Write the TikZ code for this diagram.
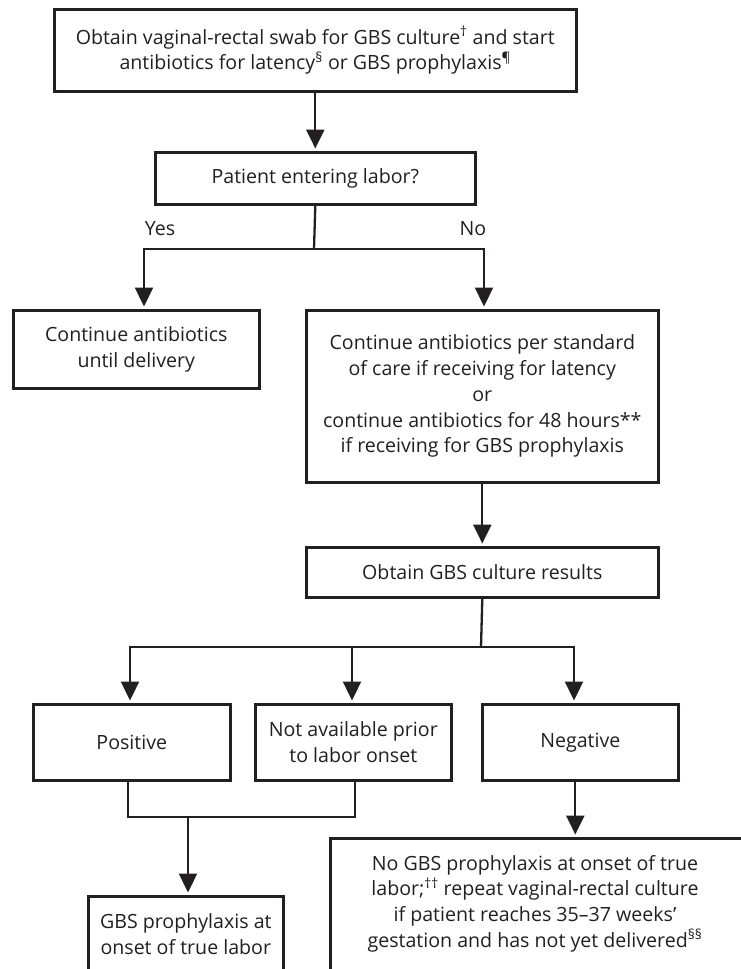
\documentclass[tikz,border=0pt]{standalone}
\usepackage{fontspec}
\setmainfont{Open Sans}
\usetikzlibrary{arrows.meta}
\definecolor{ink}{RGB}{35,31,32}
\begin{document}
\begin{tikzpicture}[x=1pt,y=-1pt,
  every node/.style={font=\fontsize{19.6}{25.7}\selectfont, text=ink},
  box/.style={draw=ink, line width=2.6pt, align=center, inner sep=0pt, anchor=north west},
  conn/.style={draw=ink, line width=2.3pt},
  arr/.style={conn, -{Triangle[width=18pt,length=19pt]}, shorten >=2.5pt},
]
\useasboundingbox (0,0) rectangle (741,969);
\clip (0,0) rectangle (741,969);
\fill[white] (0,0) rectangle (741,969);

\node[box, minimum width=522, minimum height=82] (top) at (53,8)
  {Obtain vaginal-rectal swab for GBS culture\textsuperscript{†} and start\\
   antibiotics for latency\textsuperscript{§} or GBS prophylaxis\textsuperscript{¶}};
\node[box, minimum width=320, minimum height=52] (patient) at (154,151) {Patient entering labor?};
\node[box, minimum width=246, minimum height=78] (left) at (12,309) {Continue antibiotics\\until delivery};
\node[box, minimum width=352, minimum height=172] (right) at (305,309)
  {Continue antibiotics per standard\\of care if receiving for latency\\or\\continue antibiotics for 48 hours**\\if receiving for GBS prophylaxis};
\node[box, minimum width=352, minimum height=50] (obtain) at (305,546) {Obtain GBS culture results};
\node[box, minimum width=197, minimum height=76] (positive) at (32,703) {Positive};
\node[box, minimum width=196, minimum height=76] (notavail) at (254,703) {Not available prior\\to labor onset};
\node[box, minimum width=196, minimum height=76] (negative) at (481,703) {Negative};
\node[box, minimum width=195, minimum height=76] (gbs) at (87,895) {GBS prophylaxis at\\onset of true labor};
\node[box, minimum width=450, minimum height=132.6] (nogbs) at (329,837) {};
\node[align=center, inner sep=0pt] (nogbstext) at (535,903.5)
  {No GBS prophylaxis at onset of true\\labor;\textsuperscript{††} repeat vaginal-rectal culture\\if patient reaches 35–37 weeks’\\gestation and has not yet delivered\textsuperscript{§§}};

\node (yeslbl) at (160,229) {Yes};
\node (nolbl) at (473,229) {No};

\draw[arr] (top.south) -- (patient.north);
\coordinate (yn) at (314,249);
\coordinate (yes) at (144,249);
\coordinate (no) at (484,249);
\draw[conn] (patient.south) -- (yn);
\draw[arr] (yn) -- (yes) -- (yes |- left.north);
\draw[arr] (yn) -- (no) -- (no |- right.north);

\draw[arr] (right.south) -- (obtain.north);
\coordinate (cs) at (481,647);
\coordinate (cp) at (130,647);
\coordinate (cn) at (574,647);
\coordinate (cm) at (352,647);
\draw[conn] (obtain.south) -- (cs);
\draw[arr] (cs) -- (cp) -- (cp |- positive.north);
\draw[arr] (cs) -- (cn) -- (cn |- negative.north);
\draw[arr] (cm) -- (cm |- notavail.north);

\coordinate (jp) at (128,817);
\coordinate (jn) at (355,817);
\coordinate (jg) at (188,817);
\draw[conn] (jp |- positive.south) -- (jp) -- (jn) -- (jn |- notavail.south);
\draw[arr] (jg) -- (jg |- gbs.north);
\draw[arr] ([xshift=-5pt]negative.south) -- ([xshift=-5pt]negative.south |- nogbs.north);
\end{tikzpicture}
\end{document}
